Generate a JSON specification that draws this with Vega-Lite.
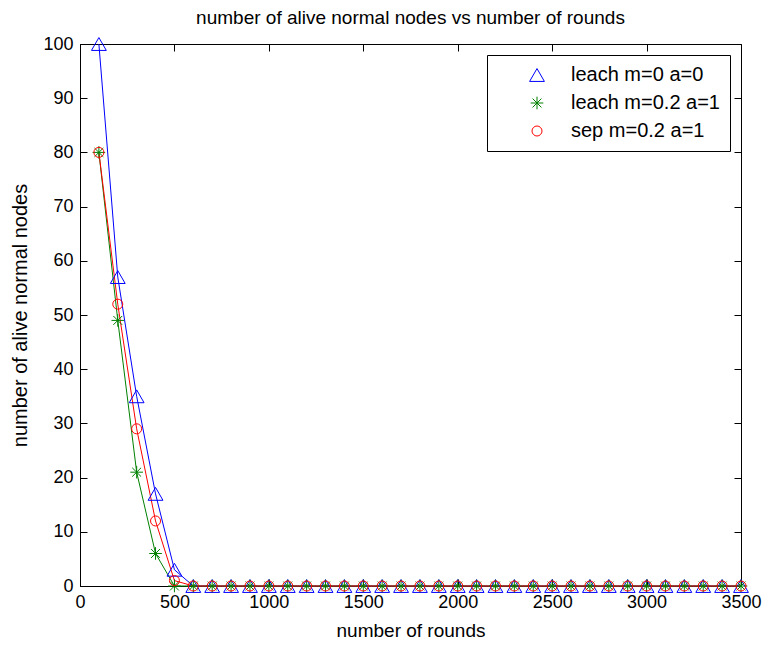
{
  "$schema": "https://vega.github.io/schema/vega-lite/v6.json",
  "width": 661,
  "height": 542,
  "autosize": "none",
  "padding": {"left": 80, "top": 44, "right": 23, "bottom": 60},
  "background": "white",
  "config": {
    "font": "Liberation Sans",
    "view": {"stroke": "black", "strokeWidth": 1},
    "axis": {"grid": false, "domainColor": "black", "tickColor": "black", "labelColor": "black", "titleColor": "black", "labelFontSize": 18, "titleFontSize": 19, "titleFontWeight": "normal", "tickSize": -7, "labelPadding": 14, "format": "d", "labelFlush": false, "labelOverlap": false}
  },
  "title": {"text": "number of alive normal nodes vs number of rounds", "fontSize": 19, "fontWeight": "normal", "color": "black", "offset": 7},
  "resolve": {"axis": {"x": "independent", "y": "independent"}},
  "data": {"values": [
    {"x":100,"y":100,"s":"leach m=0 a=0"},{"x":200,"y":57,"s":"leach m=0 a=0"},{"x":300,"y":35,"s":"leach m=0 a=0"},{"x":400,"y":17,"s":"leach m=0 a=0"},{"x":500,"y":3,"s":"leach m=0 a=0"},
    {"x":600,"y":0,"s":"leach m=0 a=0"},{"x":700,"y":0,"s":"leach m=0 a=0"},{"x":800,"y":0,"s":"leach m=0 a=0"},{"x":900,"y":0,"s":"leach m=0 a=0"},{"x":1000,"y":0,"s":"leach m=0 a=0"},
    {"x":1100,"y":0,"s":"leach m=0 a=0"},{"x":1200,"y":0,"s":"leach m=0 a=0"},{"x":1300,"y":0,"s":"leach m=0 a=0"},{"x":1400,"y":0,"s":"leach m=0 a=0"},{"x":1500,"y":0,"s":"leach m=0 a=0"},
    {"x":1600,"y":0,"s":"leach m=0 a=0"},{"x":1700,"y":0,"s":"leach m=0 a=0"},{"x":1800,"y":0,"s":"leach m=0 a=0"},{"x":1900,"y":0,"s":"leach m=0 a=0"},{"x":2000,"y":0,"s":"leach m=0 a=0"},
    {"x":2100,"y":0,"s":"leach m=0 a=0"},{"x":2200,"y":0,"s":"leach m=0 a=0"},{"x":2300,"y":0,"s":"leach m=0 a=0"},{"x":2400,"y":0,"s":"leach m=0 a=0"},{"x":2500,"y":0,"s":"leach m=0 a=0"},
    {"x":2600,"y":0,"s":"leach m=0 a=0"},{"x":2700,"y":0,"s":"leach m=0 a=0"},{"x":2800,"y":0,"s":"leach m=0 a=0"},{"x":2900,"y":0,"s":"leach m=0 a=0"},{"x":3000,"y":0,"s":"leach m=0 a=0"},
    {"x":3100,"y":0,"s":"leach m=0 a=0"},{"x":3200,"y":0,"s":"leach m=0 a=0"},{"x":3300,"y":0,"s":"leach m=0 a=0"},{"x":3400,"y":0,"s":"leach m=0 a=0"},{"x":3500,"y":0,"s":"leach m=0 a=0"},
    {"x":100,"y":80,"s":"leach m=0.2 a=1"},{"x":200,"y":49,"s":"leach m=0.2 a=1"},{"x":300,"y":21,"s":"leach m=0.2 a=1"},{"x":400,"y":6,"s":"leach m=0.2 a=1"},{"x":500,"y":0,"s":"leach m=0.2 a=1"},
    {"x":600,"y":0,"s":"leach m=0.2 a=1"},{"x":700,"y":0,"s":"leach m=0.2 a=1"},{"x":800,"y":0,"s":"leach m=0.2 a=1"},{"x":900,"y":0,"s":"leach m=0.2 a=1"},{"x":1000,"y":0,"s":"leach m=0.2 a=1"},
    {"x":1100,"y":0,"s":"leach m=0.2 a=1"},{"x":1200,"y":0,"s":"leach m=0.2 a=1"},{"x":1300,"y":0,"s":"leach m=0.2 a=1"},{"x":1400,"y":0,"s":"leach m=0.2 a=1"},{"x":1500,"y":0,"s":"leach m=0.2 a=1"},
    {"x":1600,"y":0,"s":"leach m=0.2 a=1"},{"x":1700,"y":0,"s":"leach m=0.2 a=1"},{"x":1800,"y":0,"s":"leach m=0.2 a=1"},{"x":1900,"y":0,"s":"leach m=0.2 a=1"},{"x":2000,"y":0,"s":"leach m=0.2 a=1"},
    {"x":2100,"y":0,"s":"leach m=0.2 a=1"},{"x":2200,"y":0,"s":"leach m=0.2 a=1"},{"x":2300,"y":0,"s":"leach m=0.2 a=1"},{"x":2400,"y":0,"s":"leach m=0.2 a=1"},{"x":2500,"y":0,"s":"leach m=0.2 a=1"},
    {"x":2600,"y":0,"s":"leach m=0.2 a=1"},{"x":2700,"y":0,"s":"leach m=0.2 a=1"},{"x":2800,"y":0,"s":"leach m=0.2 a=1"},{"x":2900,"y":0,"s":"leach m=0.2 a=1"},{"x":3000,"y":0,"s":"leach m=0.2 a=1"},
    {"x":3100,"y":0,"s":"leach m=0.2 a=1"},{"x":3200,"y":0,"s":"leach m=0.2 a=1"},{"x":3300,"y":0,"s":"leach m=0.2 a=1"},{"x":3400,"y":0,"s":"leach m=0.2 a=1"},{"x":3500,"y":0,"s":"leach m=0.2 a=1"},
    {"x":100,"y":80,"s":"sep m=0.2 a=1"},{"x":200,"y":52,"s":"sep m=0.2 a=1"},{"x":300,"y":29,"s":"sep m=0.2 a=1"},{"x":400,"y":12,"s":"sep m=0.2 a=1"},{"x":500,"y":1,"s":"sep m=0.2 a=1"},
    {"x":600,"y":0,"s":"sep m=0.2 a=1"},{"x":700,"y":0,"s":"sep m=0.2 a=1"},{"x":800,"y":0,"s":"sep m=0.2 a=1"},{"x":900,"y":0,"s":"sep m=0.2 a=1"},{"x":1000,"y":0,"s":"sep m=0.2 a=1"},
    {"x":1100,"y":0,"s":"sep m=0.2 a=1"},{"x":1200,"y":0,"s":"sep m=0.2 a=1"},{"x":1300,"y":0,"s":"sep m=0.2 a=1"},{"x":1400,"y":0,"s":"sep m=0.2 a=1"},{"x":1500,"y":0,"s":"sep m=0.2 a=1"},
    {"x":1600,"y":0,"s":"sep m=0.2 a=1"},{"x":1700,"y":0,"s":"sep m=0.2 a=1"},{"x":1800,"y":0,"s":"sep m=0.2 a=1"},{"x":1900,"y":0,"s":"sep m=0.2 a=1"},{"x":2000,"y":0,"s":"sep m=0.2 a=1"},
    {"x":2100,"y":0,"s":"sep m=0.2 a=1"},{"x":2200,"y":0,"s":"sep m=0.2 a=1"},{"x":2300,"y":0,"s":"sep m=0.2 a=1"},{"x":2400,"y":0,"s":"sep m=0.2 a=1"},{"x":2500,"y":0,"s":"sep m=0.2 a=1"},
    {"x":2600,"y":0,"s":"sep m=0.2 a=1"},{"x":2700,"y":0,"s":"sep m=0.2 a=1"},{"x":2800,"y":0,"s":"sep m=0.2 a=1"},{"x":2900,"y":0,"s":"sep m=0.2 a=1"},{"x":3000,"y":0,"s":"sep m=0.2 a=1"},
    {"x":3100,"y":0,"s":"sep m=0.2 a=1"},{"x":3200,"y":0,"s":"sep m=0.2 a=1"},{"x":3300,"y":0,"s":"sep m=0.2 a=1"},{"x":3400,"y":0,"s":"sep m=0.2 a=1"},{"x":3500,"y":0,"s":"sep m=0.2 a=1"}
  ]},
  "layer": [
    {
      "mark": {"type": "point", "opacity": 0},
      "encoding": {
        "x": {"field": "x", "type": "quantitative", "scale": {"domain": [0, 3500], "nice": false, "zero": false}, "axis": {"orient": "top", "labels": false, "title": null, "domain": false, "values": [0,500,1000,1500,2000,2500,3000,3500]}},
        "y": {"field": "y", "type": "quantitative", "scale": {"domain": [0, 100], "nice": false}, "axis": {"orient": "right", "labels": false, "title": null, "domain": false, "values": [0,10,20,30,40,50,60,70,80,90,100]}}
      }
    },
    {
      "mark": {"type": "line", "strokeWidth": 1, "clip": false},
      "encoding": {
        "x": {"field": "x", "type": "quantitative", "scale": {"domain": [0, 3500], "nice": false, "zero": false}, "axis": {"title": "number of rounds", "values": [0,500,1000,1500,2000,2500,3000,3500], "titlePadding": 10}},
        "y": {"field": "y", "type": "quantitative", "scale": {"domain": [0, 100], "nice": false}, "axis": {"title": "number of alive normal nodes", "titleFontSize": 20, "values": [0,10,20,30,40,50,60,70,80,90,100], "titlePadding": 12}},
        "color": {"field": "s", "type": "nominal", "scale": {"domain": ["leach m=0 a=0", "leach m=0.2 a=1", "sep m=0.2 a=1"], "range": ["#0000ff", "#008000", "#ff0000"]}},
        "order": {"field": "x"}
      }
    },
    {
      "mark": {"type": "point", "filled": false, "strokeWidth": 1, "opacity": 1, "clip": false},
      "encoding": {
        "x": {"field": "x", "type": "quantitative", "scale": {"domain": [0, 3500], "nice": false, "zero": false}, "axis": null},
        "y": {"field": "y", "type": "quantitative", "scale": {"domain": [0, 100], "nice": false}, "axis": null},
        "color": {"field": "s", "type": "nominal", "scale": {"domain": ["leach m=0 a=0", "leach m=0.2 a=1", "sep m=0.2 a=1"], "range": ["#0000ff", "#008000", "#ff0000"]}, "legend": {"title": null, "orient": "top-right", "offset": 11, "strokeColor": "black", "fillColor": "white", "padding": 10, "labelFontSize": 20, "labelColor": "black", "symbolStrokeWidth": 1, "rowPadding": 8, "symbolOffset": 30, "labelOffset": 24}},
        "shape": {"field": "s", "type": "nominal", "scale": {"domain": ["leach m=0 a=0", "leach m=0.2 a=1", "sep m=0.2 a=1"], "range": ["triangle-up", "M-1,0L1,0M0,-1L0,1M-0.7,-0.7L0.7,0.7M-0.7,0.7L0.7,-0.7", "circle"]}},
        "size": {"field": "s", "type": "nominal", "scale": {"domain": ["leach m=0 a=0", "leach m=0.2 a=1", "sep m=0.2 a=1"], "range": [220, 100, 180]}}
      }
    }
  ]
}
